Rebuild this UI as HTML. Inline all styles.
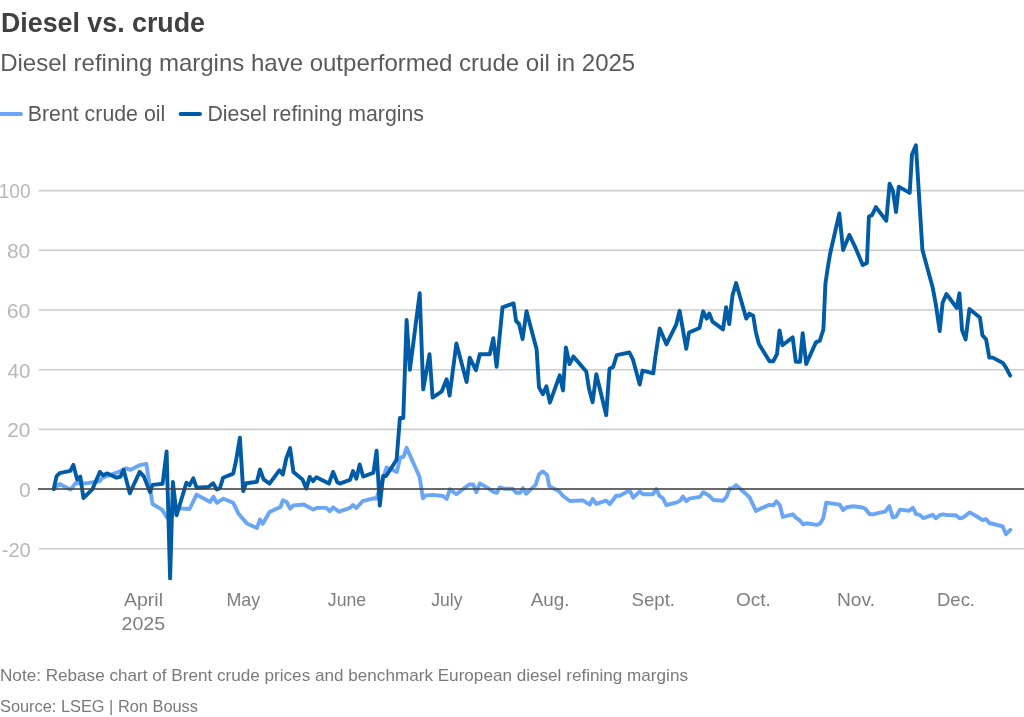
<!DOCTYPE html>
<html><head><meta charset="utf-8"><title>Diesel vs. crude</title>
<style>
html,body{margin:0;padding:0;background:#fff;}
body{width:1024px;height:717px;overflow:hidden;}
svg{display:block;}
text{font-family:"Liberation Sans", Arial, sans-serif;}
</style></head><body>
<svg width="1024" height="717" viewBox="0 0 1024 717">
<rect width="1024" height="717" fill="#fff"/>
<line x1="38.8" y1="190.60" x2="1024" y2="190.60" stroke="#cdcdcd" stroke-width="1.6"/>
<line x1="38.8" y1="250.30" x2="1024" y2="250.30" stroke="#cdcdcd" stroke-width="1.6"/>
<line x1="38.8" y1="310.00" x2="1024" y2="310.00" stroke="#cdcdcd" stroke-width="1.6"/>
<line x1="38.8" y1="369.70" x2="1024" y2="369.70" stroke="#cdcdcd" stroke-width="1.6"/>
<line x1="38.8" y1="429.40" x2="1024" y2="429.40" stroke="#cdcdcd" stroke-width="1.6"/>
<line x1="38.8" y1="548.80" x2="1024" y2="548.80" stroke="#cdcdcd" stroke-width="1.6"/>
<line x1="-2" y1="114" x2="21" y2="114" stroke="#6aa6f5" stroke-width="4" stroke-linecap="round"/>
<line x1="180.7" y1="114" x2="200" y2="114" stroke="#005ca6" stroke-width="4" stroke-linecap="round"/>
<polyline points="53.75,489 59.5,483.9 70.5,489.4 75.9,483.1 85.3,483.4 99.4,481.3 102.5,477.7 118.1,472.2 126,468.3 130.6,469.8 140,465.1 146.3,463.8 152.5,504 162,509.6 166.3,516.5 170,520 175,510 178.9,508.4 189.6,509 196.6,494.6 210.1,502 213.4,496.7 216.8,502.8 223.5,498.7 233.2,502.8 238.5,513.7 246.9,523.4 256.9,528 260,519.6 262.8,523.8 269.5,512 280.4,507 282.9,500.3 286.7,502 290.1,508.7 293.4,505.4 303.8,504.5 313,509.5 317.2,507.9 326.4,507.9 329.7,511.2 333.1,507.4 339,511.7 350,507.9 353,505 356.4,507.9 362.6,501.2 373.4,498.3 376.5,498.6 386.5,467.5 389.6,468.5 396.8,472 400.2,457.5 403.5,456.8 406.6,447.8 419.6,477 422.9,498.3 425.5,495.5 432.9,494.9 442.9,496 446.7,498.9 449.9,489.2 456.3,494.2 469.2,484.5 473.3,484.5 476.3,492.2 479.8,483.4 488,488.1 493.9,492.2 496.8,492.8 499.7,487.5 504.4,488.7 512.6,488.7 516.1,492.8 520.2,492.8 522.9,488.1 526.1,493.7 535.5,485.1 539,474.3 542.9,471.4 547,474.9 549.3,486.3 558.7,491 562.8,495.7 569.9,501 582.8,500.4 589.8,504.7 592.7,498.9 596.2,503.9 606.2,500.7 609.7,504.2 616.2,495.7 619.7,495.7 627.3,491.6 630.2,491.6 633.2,497.7 639.6,491.6 643.1,494.2 652.9,494.2 656.4,489 659.3,495.7 662.9,498.4 666.4,505.1 677.5,502.1 680.4,500.4 682.8,496.5 686.3,501.2 689.2,498.6 699.8,496.9 703.3,492.2 709.2,495.7 713.3,500 723.2,500.7 726.8,496.3 729.7,488.3 732.6,488.3 736.1,485.1 740.8,489.2 749.6,497.4 755.9,511 761.7,508.1 769.3,504.9 773.4,505.2 776.4,501.4 779.9,505.2 782.8,516.9 792.8,514.3 796.3,518.1 799.2,519.8 803.3,524.5 806.3,523.3 816.8,524.9 820.3,523.3 823.3,518.1 826.2,502.6 839.7,504.6 843.2,510.1 846.7,507.3 853.2,506.3 862.5,507.5 865.3,508.7 869.4,514 872.9,514.5 877.6,513.1 885.2,511.6 889.3,506.1 892.8,517.5 896.3,516.3 899.9,509.6 909.2,510.8 912.8,507.7 916,514 919.6,514.8 923.3,518.1 932.7,514.8 936,518.3 939.7,515.1 943.2,514.3 947.3,515.1 955.9,515.2 959.6,518.3 963.1,517.5 969.8,512.4 978.2,517.3 982.6,520.2 986,519.1 989.4,523 1002.6,526.4 1006,534.2 1010.4,529.8" fill="none" stroke="#6aa6f5" stroke-width="3.9" stroke-linejoin="round" stroke-linecap="round"/>
<polyline points="53.75,489 56.6,476.2 59.7,473.2 70.3,470.8 73.4,464.9 77.2,479.7 80.3,476.6 83.4,498 92.3,489.4 99.8,471.9 103.3,475.3 106.9,473.4 116.6,477.7 120.5,476.6 123.6,469.8 129.8,493.3 139.7,471.9 143.8,476.4 150,492.1 152.5,484.9 162.6,483.7 166.6,451.5 170.1,578.4 172.9,482 176.6,515.3 186.4,482.7 189.6,485.2 193.3,478.3 196.7,487.8 208.4,487 213.1,483.3 216.8,489.5 219.8,488.3 223.1,477.7 233.2,473.6 236,461 239.9,437.6 243.2,491.1 246.1,483.3 256.9,481.9 260,469.4 263.6,479.4 269.5,483.6 279.5,470.2 282.9,474.4 286.2,458.5 290.1,448.1 293.4,471.9 302.5,479.4 306.3,488.6 309.7,476.9 313,481.1 316.4,477.2 328.9,483.6 333.1,471.9 337.3,482.3 339.8,483.6 350,479.9 353,471.1 356.4,478.6 359.7,464.4 363.1,476.6 373.4,472.7 376.6,450.8 379.8,505.6 383.1,476 386.1,476 396.6,459.8 399.9,418 403.3,418 406.6,320 409.9,369.8 419.7,293.3 423.2,389.4 429.5,354.2 432.6,397.6 441.8,391.3 446.6,379.2 449.6,395.6 456.4,343.5 466.6,382 469.7,357.7 475.9,370.2 479.8,354.2 489.8,354.2 493.3,338.2 496.6,366.9 502.5,307.3 513.6,303.4 516.1,321 519.1,324 522.6,339 526.5,311.3 536.6,349.3 539,387.4 542.9,394.3 546.4,386.4 549.9,402.7 559.7,375.3 563,390.4 565.9,347.4 569.5,364 573.4,356.6 586.3,371.5 589,388.7 592.6,402.3 596.3,374.2 606.2,415 609.5,368.8 613.1,367 616.7,355.2 629.4,352.5 633,359.7 639.7,384.6 642.5,370.6 653.3,373.3 655.1,358.8 659.7,328.4 666.4,344.3 676.3,324.3 679.6,310.8 686.3,348.8 689,332.5 699.5,328 703.1,311.3 706.7,318.6 709.3,313.5 712.5,321.6 723,329.4 726.1,307.1 729.2,324 732.5,295.4 736.1,283 746.3,318.6 749.4,313.6 753.2,315.7 755.7,331.4 758.8,343.7 769.5,361.3 773.2,361.3 777,354 779.5,330.4 782.4,345.2 792.7,337.4 795.8,361.8 800,361.8 802.7,333.3 806.2,364 815.9,342.4 819.7,340.8 823.4,329.5 825.4,283.8 827.6,268.7 830.1,253.7 839.3,213.5 843.1,250 849.3,234.9 854.4,245.3 862.7,265 866.9,262.9 868.9,216.5 872,215.1 875.9,207.1 886.3,220.8 889.6,183.7 892.9,190.9 896,212 898.75,186.6 909.7,192.9 912,154.4 915.9,145.2 922.4,249.8 932.8,288.1 935.9,304.9 939.7,331 942.6,302.8 946.4,294 956.8,308 959.4,293.3 962.1,330.4 965.6,339.4 969.4,309 979.9,317.4 982.4,335.2 986.1,339.4 989.3,357.6 992.8,357.6 1002.9,363 1006,367.6 1010.2,375.6" fill="none" stroke="#005ca6" stroke-width="3.9" stroke-linejoin="round" stroke-linecap="round"/>
<line x1="38" y1="489.10" x2="1024" y2="489.10" stroke="#444" stroke-opacity="0.8" stroke-width="2"/>
<text x="1.00" y="31.8" font-size="28.5" font-weight="700" fill="#404040" textLength="204.00" lengthAdjust="spacingAndGlyphs">Diesel vs. crude</text>
<text x="0.20" y="70.8" font-size="24" fill="#5a5a5a" textLength="635.02" lengthAdjust="spacingAndGlyphs">Diesel refining margins have outperformed crude oil in 2025</text>
<text x="27.74" y="121" font-size="21.5" fill="#5a5a5a" textLength="137.50" lengthAdjust="spacingAndGlyphs">Brent crude oil</text>
<text x="207.48" y="121" font-size="21.5" fill="#5a5a5a" textLength="216.50" lengthAdjust="spacingAndGlyphs">Diesel refining margins</text>
<text x="124.06" y="605.6" font-size="19" fill="#7e7e7e" textLength="38.92" lengthAdjust="spacingAndGlyphs">April</text>
<text x="121.52" y="630.3" font-size="19" fill="#7e7e7e" textLength="43.70" lengthAdjust="spacingAndGlyphs">2025</text>
<text x="226.50" y="605.6" font-size="19" fill="#7e7e7e" textLength="33.70" lengthAdjust="spacingAndGlyphs">May</text>
<text x="327.82" y="605.6" font-size="19" fill="#7e7e7e" textLength="38.40" lengthAdjust="spacingAndGlyphs">June</text>
<text x="431.28" y="605.6" font-size="19" fill="#7e7e7e" textLength="31.16" lengthAdjust="spacingAndGlyphs">July</text>
<text x="530.80" y="605.6" font-size="19" fill="#7e7e7e" textLength="38.72" lengthAdjust="spacingAndGlyphs">Aug.</text>
<text x="631.52" y="605.6" font-size="19" fill="#7e7e7e" textLength="43.50" lengthAdjust="spacingAndGlyphs">Sept.</text>
<text x="736.04" y="605.6" font-size="19" fill="#7e7e7e" textLength="34.76" lengthAdjust="spacingAndGlyphs">Oct.</text>
<text x="836.96" y="605.6" font-size="19" fill="#7e7e7e" textLength="38.04" lengthAdjust="spacingAndGlyphs">Nov.</text>
<text x="937.00" y="605.6" font-size="19" fill="#7e7e7e" textLength="38.02" lengthAdjust="spacingAndGlyphs">Dec.</text>
<text x="0.00" y="681.1" font-size="17" fill="#7a7a7a" textLength="687.98" lengthAdjust="spacingAndGlyphs">Note: Rebase chart of Brent crude prices and benchmark European diesel refining margins</text>
<text x="0.00" y="712.2" font-size="17" fill="#7a7a7a" textLength="197.94" lengthAdjust="spacingAndGlyphs">Source: LSEG | Ron Bouss</text>
<text x="-1.28" y="198.4" font-size="20" fill="#b8b8b8" textLength="31.78" lengthAdjust="spacingAndGlyphs">100</text>
<text x="7.00" y="258.1" font-size="20" fill="#b8b8b8" textLength="23.22" lengthAdjust="spacingAndGlyphs">80</text>
<text x="6.76" y="317.8" font-size="20" fill="#b8b8b8" textLength="23.70" lengthAdjust="spacingAndGlyphs">60</text>
<text x="7.56" y="377.5" font-size="20" fill="#b8b8b8" textLength="22.90" lengthAdjust="spacingAndGlyphs">40</text>
<text x="7.24" y="437.2" font-size="20" fill="#b8b8b8" textLength="23.22" lengthAdjust="spacingAndGlyphs">20</text>
<text x="19.04" y="496.9" font-size="20" fill="#b8b8b8" textLength="11.70" lengthAdjust="spacingAndGlyphs">0</text>
<text x="1.78" y="556.6" font-size="20" fill="#b8b8b8" textLength="28.96" lengthAdjust="spacingAndGlyphs">-20</text>
</svg>
</body></html>
